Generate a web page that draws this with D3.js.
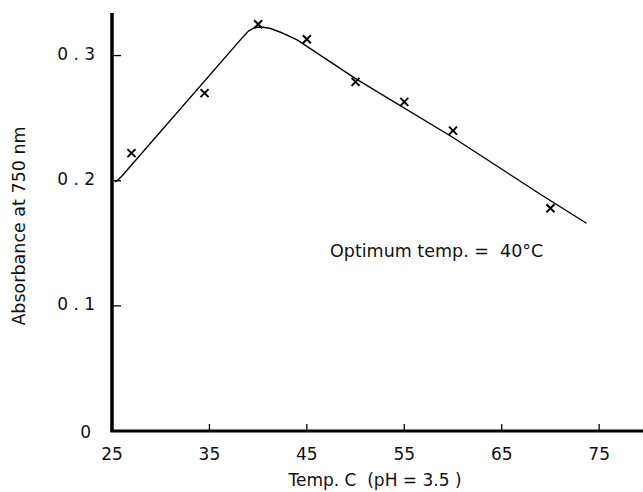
<!DOCTYPE html>
<html>
<head>
<meta charset="utf-8">
<script src="https://cdn.jsdelivr.net/npm/d3@7"></script>
<style>
  body { margin: 0; background: #fff; }
  text { font-family: "DejaVu Sans", sans-serif; fill: #111; }
</style>
</head>
<body>
<div id="chart"></div>
<script>
// measured points (x marks)
var temps = [27, 34.5, 40, 45, 50, 55, 60, 70];
var absorb = [0.222, 0.270, 0.325, 0.313, 0.279, 0.263, 0.240, 0.178];

// hand-drawn fitted curve
var curveT = [25.3, 25.6, 26.0, 38.4, 39.0, 39.6, 40.3, 41.2, 42.5, 44.0, 50, 60, 69, 73.7];
var curveA = [0.199, 0.2005, 0.2035, 0.3145, 0.3195, 0.3222, 0.3228, 0.3218, 0.318, 0.3125, 0.2815, 0.2345, 0.189, 0.166];

var xTicks = [25, 35, 45, 55, 65, 75];
var yTicks = [0, 0.1, 0.2, 0.3];
var yTickLabels = ["0", "0 . 1", "0 . 2", "0 . 3"];

var width = 643, height = 492;
var x = d3.scaleLinear().domain([25, 79.5]).range([112, 643]);
var y = d3.scaleLinear().domain([0, 0.334]).range([431, 13]);

var svg = d3.select("#chart").append("svg")
    .attr("width", width)
    .attr("height", height);

// axes lines
svg.append("line")
    .attr("x1", x(25)).attr("x2", x(25))
    .attr("y1", y(0.334)).attr("y2", y(0) + 1)
    .attr("stroke", "#000").attr("stroke-width", 3.5);
svg.append("line")
    .attr("x1", x(25) - 1.5).attr("x2", 643)
    .attr("y1", y(0)).attr("y2", y(0))
    .attr("stroke", "#000").attr("stroke-width", 3);

// y ticks (inward)
svg.selectAll("line.ytick").data(yTicks.filter(function(d) { return d > 0; }))
  .enter().append("line")
    .attr("class", "ytick")
    .attr("x1", x(25)).attr("x2", x(25) + 9)
    .attr("y1", function(d) { return y(d); })
    .attr("y2", function(d) { return y(d); })
    .attr("stroke", "#000").attr("stroke-width", 1.3);

svg.selectAll("text.ylab").data(yTicks)
  .enter().append("text")
    .attr("class", "ylab")
    .attr("x", function(d) { return d === 0 ? 91 : 95; })
    .attr("y", function(d) { return y(d) + (d === 0 ? 7 : 4); })
    .attr("text-anchor", "end")
    .attr("xml:space", "preserve")
    .style("font-size", "17px")
    .text(function(d, i) { return yTickLabels[i]; });

// x ticks (inward)
svg.selectAll("line.xtick").data(xTicks.filter(function(d) { return d > 25; }))
  .enter().append("line")
    .attr("class", "xtick")
    .attr("x1", function(d) { return x(d); })
    .attr("x2", function(d) { return x(d); })
    .attr("y1", y(0)).attr("y2", y(0) - 7)
    .attr("stroke", "#000").attr("stroke-width", 1.3);

svg.selectAll("text.xlab").data(xTicks)
  .enter().append("text")
    .attr("class", "xlab")
    .attr("x", function(d) { return x(d); })
    .attr("y", 460)
    .attr("text-anchor", "middle")
    .style("font-size", "17px")
    .text(function(d) { return d; });

// axis titles
svg.append("text")
    .attr("transform", "translate(25,226) rotate(-90)")
    .attr("text-anchor", "middle")
    .style("font-size", "17.5px")
    .text("Absorbance at 750 nm");

svg.append("text")
    .attr("x", 375).attr("y", 486)
    .attr("text-anchor", "middle")
    .style("font-size", "17px")
    .attr("xml:space", "preserve")
    .text("Temp. C  (pH = 3.5 )");

// fitted curve
var line = d3.line()
    .x(function(d) { return x(d[0]); })
    .y(function(d) { return y(d[1]); })
    .curve(d3.curveLinear);

svg.append("path")
    .datum(curveT.map(function(t, i) { return [t, curveA[i]]; }))
    .attr("d", line)
    .attr("fill", "none")
    .attr("stroke", "#000")
    .attr("stroke-width", 1.4)
    .attr("stroke-linejoin", "round");

// x markers
var s = 4;
var marks = svg.selectAll("g.mark").data(temps.map(function(t, i) { return [t, absorb[i]]; }))
  .enter().append("g")
    .attr("class", "mark")
    .attr("transform", function(d) { return "translate(" + x(d[0]) + "," + y(d[1]) + ")"; });
marks.append("path")
    .attr("d", "M" + (-s) + "," + (-s) + "L" + s + "," + s + "M" + (-s) + "," + s + "L" + s + "," + (-s))
    .attr("stroke", "#000")
    .attr("stroke-width", 2);

// annotation
svg.append("text")
    .attr("x", 330).attr("y", 257)
    .style("font-size", "17.5px")
    .attr("xml:space", "preserve")
    .text("Optimum temp. =  40°C");
</script>
</body>
</html>
